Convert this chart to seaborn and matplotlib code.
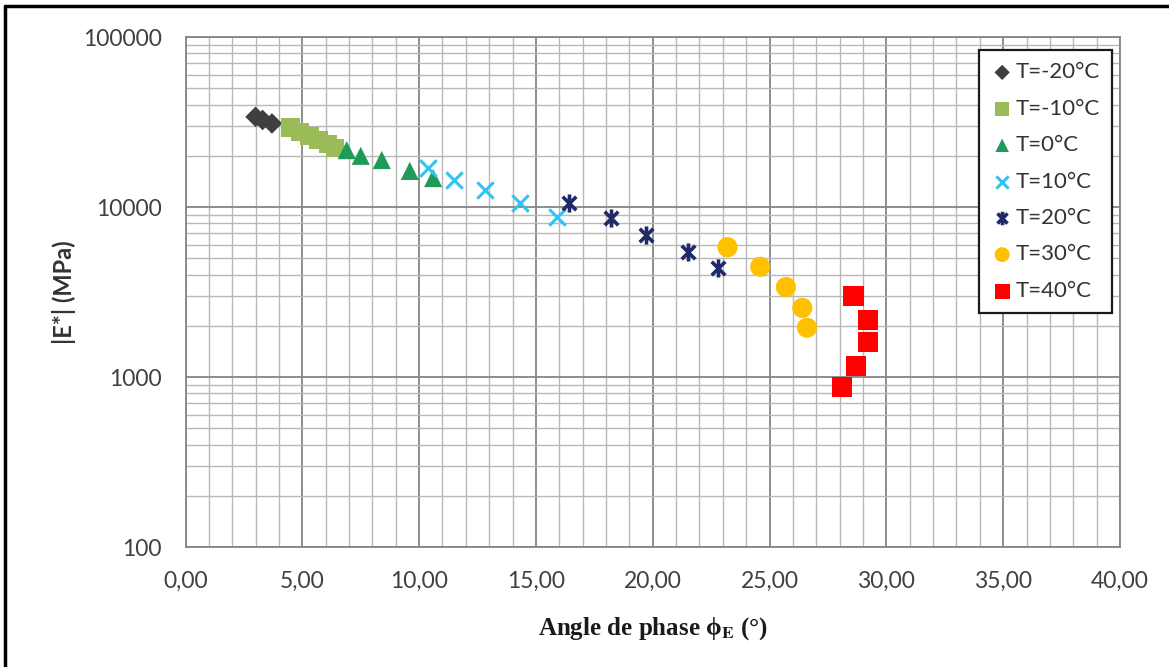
import numpy as np
import pandas as pd
import matplotlib
matplotlib.use("Agg")
import matplotlib.pyplot as plt
from matplotlib.path import Path
from matplotlib.lines import Line2D
from matplotlib.ticker import FixedLocator, FuncFormatter, LogLocator, NullFormatter
import seaborn as sns

# Complex modulus |E*| versus phase angle, one series per test temperature
temperatures = ["T=-20°C", "T=-10°C", "T=0°C", "T=10°C", "T=20°C", "T=30°C", "T=40°C"]

phase_m20 = [3.0, 3.3, 3.7]
modulus_m20 = [33900, 32500, 31000]

phase_m10 = [4.5, 4.9, 5.3, 5.7, 6.1, 6.4]
modulus_m10 = [29300, 27700, 26200, 24800, 23500, 22200]

phase_0 = [6.9, 7.5, 8.4, 9.6, 10.6]
modulus_0 = [21600, 20000, 18900, 16300, 14800]

phase_10 = [10.4, 11.5, 12.8, 14.3, 15.9]
modulus_10 = [16900, 14400, 12600, 10600, 8750]

phase_20 = [16.4, 18.2, 19.7, 21.5, 22.8]
modulus_20 = [10550, 8600, 6850, 5450, 4380]

phase_30 = [23.2, 24.6, 25.7, 26.4, 26.6]
modulus_30 = [5800, 4450, 3380, 2550, 1950]

phase_40 = [28.6, 29.2, 29.2, 28.7, 28.1]
modulus_40 = [2990, 2170, 1610, 1160, 875]

x_ticks = [0, 5, 10, 15, 20, 25, 30, 35, 40]
y_ticks = [100, 1000, 10000, 100000]

phases = [phase_m20, phase_m10, phase_0, phase_10, phase_20, phase_30, phase_40]
moduli = [modulus_m20, modulus_m10, modulus_0, modulus_10, modulus_20, modulus_30, modulus_40]

df = pd.concat(
    [pd.DataFrame({"phase": p, "modulus": m, "T": t}) for p, m, t in zip(phases, moduli, temperatures)],
    ignore_index=True,
)

# Six-spoke asterisk: an x crossed by a vertical bar
asterisk = Path(
    [(0, -1), (0, 1), (-0.75, -0.75), (0.75, 0.75), (-0.75, 0.75), (0.75, -0.75)],
    [Path.MOVETO, Path.LINETO, Path.MOVETO, Path.LINETO, Path.MOVETO, Path.LINETO],
)

styles = {
    "T=-20°C": dict(marker="D", color="#3f3f3f", s=110, lw=0),
    "T=-10°C": dict(marker="s", color="#9bbb59", s=175, lw=0),
    "T=0°C": dict(marker="^", color="#1f9a5a", s=170, lw=0),
    "T=10°C": dict(marker="x", color="#33c3f0", s=140, lw=2.2),
    "T=20°C": dict(marker=asterisk, color="#1f2a66", s=170, lw=2.6),
    "T=30°C": dict(marker="o", color="#ffc000", s=210, lw=0),
    "T=40°C": dict(marker="s", color="#ff0000", s=215, lw=0),
}
line_markers = {"T=10°C", "T=20°C"}

sns.set_theme(style="white")
plt.rcParams["font.family"] = ["Lato", "DejaVu Sans"]
plt.rcParams["mathtext.fontset"] = "stix"

W, H = 1169, 667
fig = plt.figure(figsize=(W / 100, H / 100), dpi=100)
left, right, top, bottom = 185.5, 1120, 37, 547
ax = fig.add_axes([left / W, 1 - bottom / H, (right - left) / W, (bottom - top) / H])

for t in temperatures:
    st = styles[t]
    sub = df[df["T"] == t]
    if t in line_markers:
        kw = dict(edgecolor=st["color"], linewidth=st["lw"])
    else:
        kw = dict(edgecolor="none")
    sns.scatterplot(
        data=sub, x="phase", y="modulus", marker=st["marker"], color=st["color"],
        s=st["s"], label=t, ax=ax, zorder=3, **kw,
    )

ax.set_yscale("log")
ax.set_xlim(0, 40)
ax.set_ylim(100, 100000)

ax.xaxis.set_major_locator(FixedLocator(x_ticks))
ax.xaxis.set_minor_locator(FixedLocator(np.arange(0, 41, 1)))
ax.xaxis.set_major_formatter(FuncFormatter(lambda v, _: f"{v:.2f}".replace(".", ",")))
ax.yaxis.set_major_locator(FixedLocator(y_ticks))
ax.yaxis.set_minor_locator(LogLocator(base=10, subs=np.arange(2, 10)))
ax.yaxis.set_major_formatter(FuncFormatter(lambda v, _: f"{int(round(v))}"))
ax.yaxis.set_minor_formatter(NullFormatter())

ax.grid(which="major", color="#858585", linewidth=1.3)
ax.grid(which="minor", color="#b8b8b8", linewidth=1.0)
ax.set_axisbelow(True)
for sp in ax.spines.values():
    sp.set_color("#858585")
    sp.set_linewidth(1.3)

ax.tick_params(axis="both", which="major", direction="out", length=6, width=1.2,
               color="#858585", labelsize=16.5, labelcolor="#404040")
ax.tick_params(axis="x", which="major", pad=11)
ax.tick_params(axis="y", which="major", pad=11)
ax.tick_params(axis="both", which="minor", length=0)

ax.set_xlabel("Angle de phase ϕ$_{\\mathbf{E}}$ (°)", fontsize=18, fontweight="bold",
              family=["Liberation Serif", "DejaVu Serif"], color="#1a1a1a", labelpad=17)
ax.set_ylabel("|E*| (MPa)", fontsize=17, fontweight="bold", color="#333333", labelpad=5)

leg = ax.legend(
    loc="upper right", bbox_to_anchor=(0.9914, 0.9745), frameon=True, fancybox=False,
    edgecolor="#1a1a1a", fontsize=16, labelspacing=0.74, handletextpad=0.1,
    handlelength=1.0, borderpad=0.55, borderaxespad=0,
)
leg.get_frame().set_linewidth(1.6)
leg.get_frame().set_facecolor("white")
leg.get_frame().set_alpha(1)
for txt in leg.get_texts():
    txt.set_color("#333333")
for h, t in zip(leg.legend_handles, temperatures):
    h.set_sizes([styles[t]["s"] * 0.55])

# Outer frame (top and left edges)
fig.add_artist(Line2D([5 / W, 5 / W], [0, 1 - 6 / H], color="black", linewidth=2.5, transform=fig.transFigure))
fig.add_artist(Line2D([5 / W, 1], [1 - 6 / H, 1 - 6 / H], color="black", linewidth=2.5, transform=fig.transFigure))

fig.savefig("out.png", dpi=100, facecolor="white")
